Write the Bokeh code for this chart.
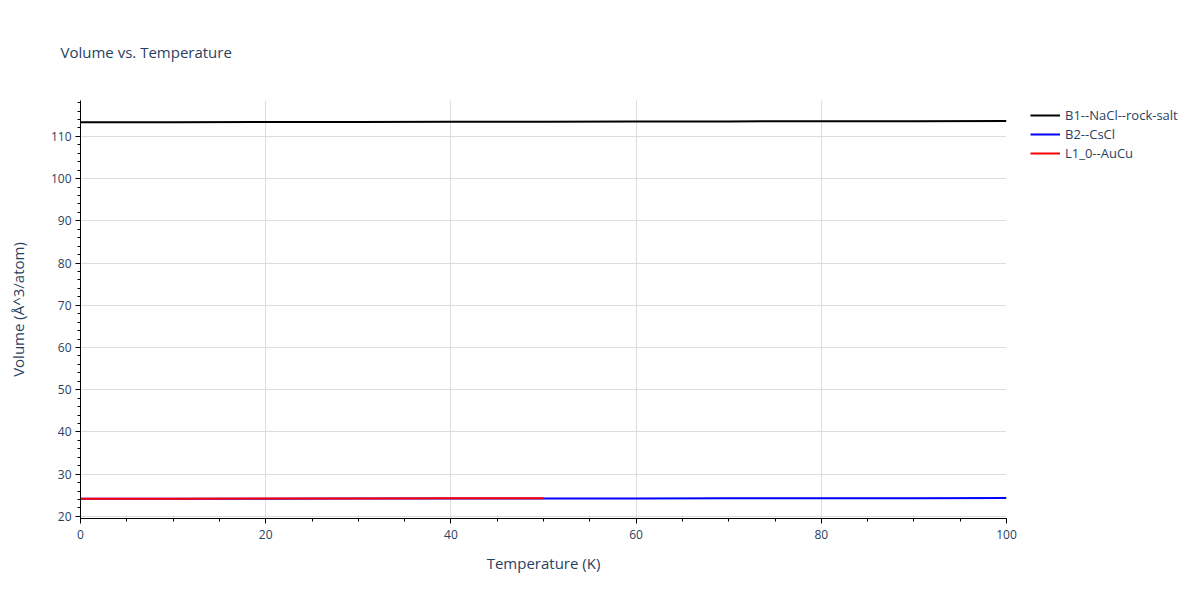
from bokeh.plotting import figure
from bokeh.models import Legend, LegendItem, Range1d, FixedTicker
from bokeh.embed import file_html
from bokeh.resources import INLINE

FONT = "Open Sans"
TXT = "#2a3f5f"

# data
temps_b1 = [0, 10, 20, 30, 40, 50, 60, 70, 80, 90, 100]
vol_b1 = [113.35, 113.37, 113.40, 113.43, 113.46, 113.49, 113.52, 113.55, 113.58, 113.61, 113.65]

temps_b2 = [0, 10, 20, 30, 40, 50, 60, 70, 80, 90, 100]
vol_b2 = [24.18, 24.19, 24.20, 24.21, 24.22, 24.23, 24.25, 24.27, 24.29, 24.31, 24.33]

temps_l10 = [0, 10, 20, 30, 40, 50]
vol_l10 = [24.17, 24.19, 24.21, 24.24, 24.27, 24.30]

series = [
    ("B1--NaCl--rock-salt", temps_b1, vol_b1, "black"),
    ("B2--CsCl", temps_b2, vol_b2, "blue"),
    ("L1_0--AuCu", temps_l10, vol_l10, "red"),
]

p = figure(frame_width=926, frame_height=418, output_backend="svg",
           toolbar_location=None,
           x_range=Range1d(0, 100), y_range=Range1d(19.5, 118.5),
           min_border_left=80, min_border_right=10,
           min_border_top=100, min_border_bottom=66,
           title="Volume vs. Temperature")
p.outline_line_color = None
p.background_fill_color = "white"

p.title.text_font = FONT
p.title.text_font_size = "15px"
p.title.text_font_style = "normal"
p.title.text_color = TXT
p.title.offset = -20
p.title.standoff = 77

items = []
for name, xs, ys, color in series:
    r = p.line(xs, ys, line_color=color, line_width=2)
    items.append(LegendItem(label=name, renderers=[r]))

legend = Legend(items=items, location=(24, 356),
                border_line_color=None, background_fill_alpha=0,
                label_text_font=FONT, label_text_font_size="13px",
                label_text_color=TXT, glyph_width=30, glyph_height=14,
                label_height=14, spacing=1, padding=0, margin=0,
                label_standoff=5)
p.add_layout(legend, "right")

p.xaxis.ticker = FixedTicker(ticks=[0, 20, 40, 60, 80, 100],
                             minor_ticks=list(range(0, 101, 5)))
p.yaxis.ticker = FixedTicker(ticks=list(range(20, 111, 10)),
                             minor_ticks=list(range(20, 119, 2)))

for ax in (p.xaxis, p.yaxis):
    ax.axis_line_color = "black"
    ax.axis_line_width = 1
    ax.major_tick_line_color = "black"
    ax.minor_tick_line_color = "black"
    ax.major_tick_in = 0
    ax.major_tick_out = 5
    ax.minor_tick_in = 0
    ax.minor_tick_out = 3
    ax.major_label_text_font = FONT
    ax.major_label_text_font_size = "12px"
    ax.major_label_text_color = TXT
    ax.axis_label_text_font = FONT
    ax.axis_label_text_font_size = "15px"
    ax.axis_label_text_font_style = "normal"
    ax.axis_label_text_color = TXT

p.xaxis.axis_label = "Temperature (K)"
p.yaxis.axis_label = "Volume (Å^3/atom)"
p.xaxis.axis_label_standoff = 11
p.yaxis.axis_label_standoff = 20
p.xaxis.major_label_standoff = 6
p.yaxis.major_label_standoff = 4

p.xgrid.grid_line_color = "#dddddd"
p.ygrid.grid_line_color = "#dddddd"

open("out.html", "w").write(file_html(p, INLINE))
